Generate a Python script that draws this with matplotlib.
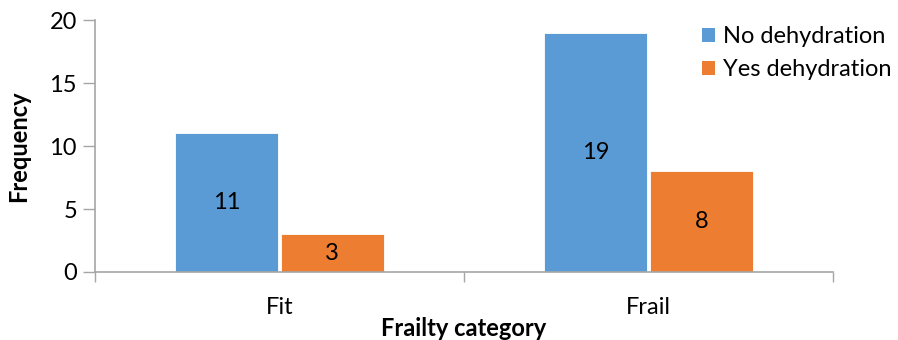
import matplotlib.pyplot as plt
from matplotlib.patches import Patch
import numpy as np

plt.rcParams['font.family'] = ['Lato', 'DejaVu Sans']

categories = ['Fit', 'Frail']
series_names = ['No dehydration', 'Yes dehydration']
no_dehydration = [11, 19]
yes_dehydration = [3, 8]
colors = ['#5B9BD5', '#ED7D31']
axis_color = '#A6A6A6'
fs = 17


def main():
    fig = plt.figure(figsize=(8.98, 3.40), dpi=100)
    ax = fig.add_axes([0.1058, 0.2, 0.9276 - 0.1058, 0.941 - 0.2])

    x = np.arange(len(categories))
    width = 0.28
    offsets = [-width / 2 - 0.003, width / 2 + 0.003]
    for vals, off, col in zip([no_dehydration, yes_dehydration], offsets, colors):
        bars = ax.bar(x + off, vals, width, color=col, edgecolor='white', linewidth=0.6)
        for b, v in zip(bars, vals):
            ax.text(b.get_x() + b.get_width() / 2, v / 2, str(v),
                    ha='center', va='center', fontsize=fs, color='black')

    ax.set_xlim(-0.5, 1.5)
    ax.set_ylim(0, 20)
    ax.set_yticks([0, 5, 10, 15, 20])
    ax.tick_params(axis='y', length=9, width=1, color=axis_color, labelsize=fs, pad=4)

    # boundary ticks on major, category labels on minor
    ax.set_xticks([-0.5, 0.5, 1.5])
    ax.set_xticklabels([])
    ax.set_xticks(x, minor=True)
    ax.set_xticklabels(categories, minor=True)
    ax.tick_params(axis='x', which='major', length=7, width=1, color=axis_color, direction='out')
    ax.tick_params(axis='x', which='minor', length=0, labelsize=fs, pad=18)

    for s in ['top', 'right']:
        ax.spines[s].set_visible(False)
    for s in ['left', 'bottom']:
        ax.spines[s].set_color(axis_color)
        ax.spines[s].set_linewidth(1.2)

    ax.set_ylabel('Frequency', fontsize=fs, fontweight='bold', labelpad=14)
    ax.set_xlabel('Frailty category', fontsize=fs, fontweight='bold', labelpad=-1)

    handles = [Patch(facecolor=c, label=n) for c, n in zip(colors, series_names)]
    fig.legend(handles=handles, loc='upper left', bbox_to_anchor=(0.771, 0.95),
               frameon=False, fontsize=fs, handlelength=0.55, handleheight=0.55,
               handletextpad=0.35, labelspacing=0.5, borderaxespad=0)

    fig.savefig('out.png', dpi=100)


if __name__ == "__main__":
    main()
